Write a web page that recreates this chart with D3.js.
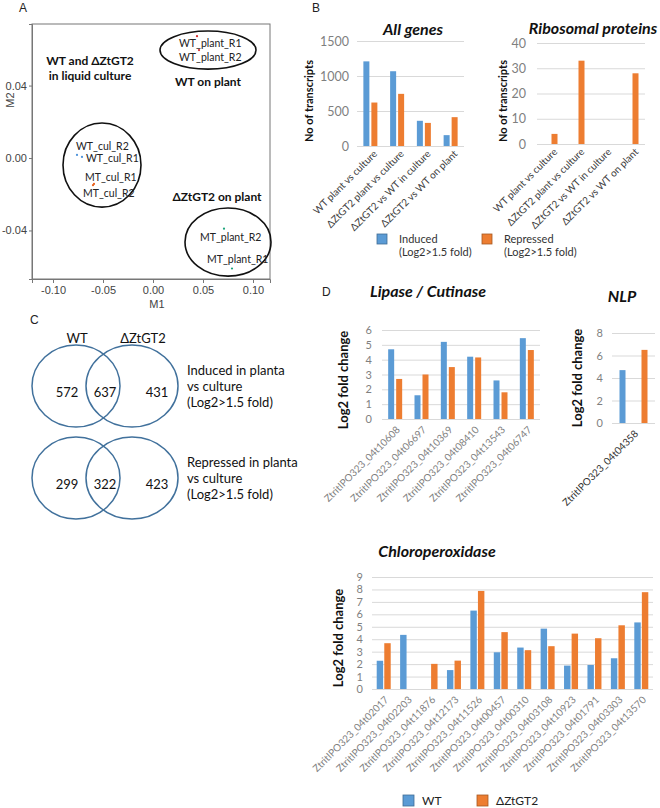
<!DOCTYPE html>
<html><head><meta charset="utf-8">
<script src="https://cdnjs.cloudflare.com/ajax/libs/d3/7.8.5/d3.min.js"></script>
<style>
body{margin:0;background:#fff;}
svg{display:block;font-family:Lato,"Open Sans",sans-serif;}
</style></head>
<body><svg id="c" width="660" height="808"></svg>
<script>
// ---------- DATA ----------
// Panel A: MDS plot
const pcaSamples = ["WT_plant_R1","WT_plant_R2","WT_cul_R2","WT_cul_R1","MT_cul_R1","MT_cul_R2","MT_plant_R2","MT_plant_R1"];
const pcaM1 = [0.044, 0.046, -0.076, -0.071, -0.059, -0.060, 0.071, 0.079];
const pcaM2 = [0.0673, 0.0596, 0.0017, 0.0006, -0.0143, -0.0150, -0.039, -0.061];
const pcaGroup = ["wtPlant","wtPlant","wtCul","wtCul","mtCul","mtCul","mtPlant","mtPlant"];
const pcaXTicks = [-0.10, -0.05, 0.00, 0.05, 0.10];
const pcaYTicks = [-0.04, 0.00, 0.04];
// label anchors (data coords)
const pcaLabelText = ["WT_plant_R1","WT_plant_R2","WT_cul_R2","WT_cul_R1","MT_cul_R1","MT_cul_R2","MT_plant_R2","MT_plant_R1"];
const pcaLabelM1 = [0.026, 0.026, -0.077, -0.067, -0.068, -0.070, 0.047, 0.054];
const pcaLabelM2 = [0.0635, 0.0557, 0.0062, 0.0000, -0.0105, -0.0193, -0.0436, -0.0557];
const groupTitles = [["WT on plant"],["WT and \u0394ZtGT2","in liquid culture"],["\u0394ZtGT2 on plant"]];
const groupTitleM1 = [0.055, -0.063, 0.064];
const groupTitleM2 = [0.042, 0.0535, -0.0215];
const ellipseCx = [0.055, -0.051, 0.075];
const ellipseCy = [0.0596, -0.0039, -0.0464];
const ellipseRx = [0.048, 0.039, 0.043];
const ellipseRy = [0.0105, 0.0232, 0.0188];

// Panel B
const bCategories = ["WT plant vs culture","\u0394ZtGT2 plant vs culture","\u0394ZtGT2 vs WT in culture","\u0394ZtGT2 vs WT on plant"];
const allInduced = [1209, 1068, 360, 155];
const allRepressed = [621, 745, 330, 412];
const allTicks = [0, 500, 1000, 1500];
const riboInduced = [0, 0, 0, 0];
const riboRepressed = [4, 33, 0, 28];
const riboTicks = [0, 10, 20, 30, 40];

// Panel C: Venn counts [WT only, shared, ΔZtGT2 only]
const vennInduced = [572, 637, 431];
const vennRepressed = [299, 322, 423];

// Panel D
const lipaseGenes = ["ZtritIPO323_04t10608","ZtritIPO323_04t06697","ZtritIPO323_04t10369","ZtritIPO323_04t08410","ZtritIPO323_04t13543","ZtritIPO323_04t06747"];
const lipaseWT = [4.7, 1.6, 5.2, 4.2, 2.6, 5.45];
const lipaseMT = [2.7, 3.0, 3.5, 4.15, 1.8, 4.65];
const lipaseTicks = [0,1,2,3,4,5,6];
const nlpGenes = ["ZtritIPO323_04t04358"];
const nlpWT = [4.7];
const nlpMT = [6.5];
const nlpTicks = [0,2,4,6,8];
const chloroGenes = ["ZtritIPO323_04t02017","ZtritIPO323_04t02203","ZtritIPO323_04t11876","ZtritIPO323_04t12173","ZtritIPO323_04t11526","ZtritIPO323_04t00457","ZtritIPO323_04t00310","ZtritIPO323_04t03108","ZtritIPO323_04t10923","ZtritIPO323_04t01791","ZtritIPO323_04t03303","ZtritIPO323_04t13570"];
const chloroWT = [2.27, 4.35, 0, 1.52, 6.3, 2.95, 3.33, 4.85, 1.88, 1.93, 2.47, 5.35];
const chloroMT = [3.68, 0, 2.02, 2.28, 7.88, 4.57, 3.12, 3.44, 4.45, 4.08, 5.12, 7.78];
const chloroTicks = [0,1,2,3,4,5,6,7,8,9];

// ---------- STYLE ----------
const BLUE = "#5B9BD5", ORANGE = "#ED7D31", GRID = "#d9d9d9", TICK = "#7f7f7f";
const svg = d3.select("#c");
svg.append("rect").attr("width",660).attr("height",808).attr("fill","#fff");
const ARIAL = "'Liberation Sans',Arial,sans-serif";

function panelLetter(t,x,y){
  svg.append("text").attr("x",x).attr("y",y).attr("font-family",ARIAL)
    .attr("font-size",12).attr("fill","#222").text(t);
}
function title(t,x,y,size){
  svg.append("text").attr("x",x).attr("y",y).attr("text-anchor","middle")
    .attr("font-weight","bold").attr("font-style","italic").attr("font-size",size||16).attr("fill","#111").text(t);
}
function yTitle(t,x,y,size){
  svg.append("text").attr("transform",`translate(${x},${y}) rotate(-90)`).attr("text-anchor","middle")
    .attr("dy","0.35em").attr("font-weight","bold").attr("font-size",size).attr("fill","#111").text(t);
}

// ---------- PANEL A ----------
panelLetter("A", 19, 12);
const ax = d3.scaleLinear().domain([-0.121, 0.117]).range([32, 270]);
const ay = d3.scaleLinear().domain([-0.0668, 0.074]).range([279, 24]);
const gA = svg.append("g");
gA.append("rect").attr("x",ax.range()[0]).attr("y",ay.range()[1])
  .attr("width",ax.range()[1]-ax.range()[0]).attr("height",ay.range()[0]-ay.range()[1])
  .attr("fill","none").attr("stroke","#777").attr("stroke-width",1);
const fmtA = v => d3.format(".2f")(v).replace("\u2212","-");
const axB = gA.append("g").attr("transform",`translate(0,${ay.range()[0]})`)
  .call(d3.axisBottom(ax).tickValues(pcaXTicks).tickFormat(fmtA).tickSize(4).tickPadding(3));
const axL = gA.append("g").attr("transform",`translate(${ax.range()[0]},0)`)
  .call(d3.axisLeft(ay).tickValues(pcaYTicks).tickFormat(fmtA).tickSize(3).tickPadding(2));
[axB, axL].forEach(g=>{
  g.select(".domain").attr("stroke","#777");
  g.selectAll(".tick line").attr("stroke","#777");
  g.selectAll("text").attr("font-family",ARIAL).attr("font-size",11).attr("fill","#444");
});
gA.append("text").attr("x",157).attr("y",308).attr("text-anchor","middle")
  .attr("font-family",ARIAL).attr("font-size",11).attr("fill","#444").text("M1");
gA.append("text").attr("transform","translate(14,100) rotate(-90)").attr("text-anchor","middle")
  .attr("font-family",ARIAL).attr("font-size",11).attr("fill","#444").text("M2");
// ellipses
ellipseCx.forEach((cx,i)=>{
  gA.append("ellipse").attr("cx",ax(cx)).attr("cy",ay(ellipseCy[i]))
    .attr("rx",ax(cx+ellipseRx[i])-ax(cx)).attr("ry",ay(0)-ay(ellipseRy[i]))
    .attr("fill","none").attr("stroke","#111").attr("stroke-width",1.6);
});
// points
const groupColor = {wtPlant:"#d62728", wtCul:"#4a90d9", mtCul:"#e8601c", mtPlant:"#1aa37a"};
pcaSamples.forEach((s,i)=>{
  gA.append("circle").attr("cx",ax(pcaM1[i])).attr("cy",ay(pcaM2[i])).attr("r",1.1)
    .attr("fill",groupColor[pcaGroup[i]]);
});
pcaLabelText.forEach((t,i)=>{
  gA.append("text").attr("x",ax(pcaLabelM1[i])).attr("y",ay(pcaLabelM2[i])).attr("dy","0.35em")
    .attr("font-size",10.5).attr("fill","#222").text(t);
});
groupTitles.forEach((lines,i)=>{
  lines.forEach((l,j)=>{
    gA.append("text").attr("x",ax(groupTitleM1[i])).attr("y",ay(groupTitleM2[i])+j*15).attr("dy","0.35em")
      .attr("text-anchor","middle").attr("font-weight","bold").attr("font-size",12).attr("fill","#111").text(l);
  });
});

// ---------- BAR CHART HELPER ----------
function barChart(o){
  const g = svg.append("g");
  const x = d3.scaleBand().domain(o.cats).range(o.xRange);
  const y = d3.scaleLinear().domain(o.yDomain).range(o.yRange);
  const sub = d3.scaleBand().domain(["a","b"]).range([-o.subHalf, o.subHalf]).paddingInner(o.subPad);
  const ga = g.append("g").attr("transform",`translate(${o.xRange[0]},0)`)
    .call(d3.axisLeft(y).tickValues(o.ticks).tickFormat(d3.format("d"))
      .tickSize(-(o.xRange[1]-o.xRange[0])).tickPadding(o.tickPad));
  ga.select(".domain").remove();
  ga.selectAll(".tick line").attr("stroke",GRID).attr("stroke-width",1);
  ga.selectAll("text").attr("font-family","Lato,'Open Sans',sans-serif").attr("font-size",o.tickSize).attr("fill",TICK);
  const rows = o.cats.map((c,i)=>({c, a:o.a[i], b:o.b[i]}));
  [["a",BLUE],["b",ORANGE]].forEach(([k,col])=>{
    g.selectAll(null).data(rows).enter().append("rect")
      .attr("x",d=>x(d.c)+x.bandwidth()/2+sub(k))
      .attr("width",sub.bandwidth())
      .attr("y",d=>y(d[k])).attr("height",d=>y(0)-y(d[k]))
      .attr("fill",col);
  });
  g.selectAll(null).data(o.cats).enter().append("text")
    .attr("transform",d=>`translate(${x(d)+x.bandwidth()/2+o.lab[0]},${y(0)+o.lab[1]}) rotate(-45)`)
    .attr("text-anchor","end").attr("dy","0.35em")
    .attr("font-size",o.labSize).attr("fill",o.labColor).text(d=>d);
  return g;
}

// ---------- PANEL B ----------
panelLetter("B", 312, 12);
title("All genes", 413, 35);
title("Ribosomal proteins", 593, 34);
barChart({cats:bCategories, a:allInduced, b:allRepressed, xRange:[357,464], yDomain:[0,1500], yRange:[146,41],
  ticks:allTicks, tickPad:8, tickSize:12.5, subHalf:7, subPad:0.25, lab:[5,6], labSize:10, labColor:"#404040"});
barChart({cats:bCategories, a:riboInduced, b:riboRepressed, xRange:[537,645], yDomain:[0,40], yRange:[144,43],
  ticks:riboTicks, tickPad:11, tickSize:12.5, subHalf:7, subPad:0.25, lab:[5,6], labSize:10, labColor:"#404040"});
yTitle("No of transcripts", 309, 101, 11);
yTitle("No of transcripts", 503, 101, 11);
// legend B
[[377,"Induced",BLUE],[482,"Repressed",ORANGE]].forEach(([lx,t,col])=>{
  svg.append("rect").attr("x",lx).attr("y",234).attr("width",10).attr("height",10)
    .attr("fill",col).attr("stroke",d3.color(col).darker(1)).attr("stroke-width",0.8);
  svg.append("text").attr("x",lx+22).attr("y",243).attr("font-size",11).attr("fill","#333").text(t);
  svg.append("text").attr("x",lx+22).attr("y",256).attr("font-size",11).attr("fill","#333").text("(Log2>1.5 fold)");
});

// ---------- PANEL C ----------
panelLetter("C", 30, 324);
function venn(cy, counts, lines){
  const g = svg.append("g");
  g.append("ellipse").attr("cx",76).attr("cy",cy).attr("rx",44).attr("ry",41)
    .attr("fill","none").attr("stroke","#41719C").attr("stroke-width",1.5);
  g.append("ellipse").attr("cx",132).attr("cy",cy).attr("rx",46).attr("ry",41)
    .attr("fill","none").attr("stroke","#41719C").attr("stroke-width",1.5);
  [67,105,157].forEach((x,i)=>{
    g.append("text").attr("x",x).attr("y",cy+6).attr("dy","0.35em").attr("text-anchor","middle")
      .attr("font-size",13).attr("fill","#111").text(counts[i]);
  });
  lines.forEach((l,j)=>{
    g.append("text").attr("x",187).attr("y",cy-16+j*16).attr("dy","0.35em")
      .attr("font-size",13).attr("fill","#111").text(l);
  });
}
svg.append("text").attr("x",77).attr("y",338).attr("dy","0.35em").attr("text-anchor","middle").attr("font-size",13).attr("fill","#111").text("WT");
svg.append("text").attr("x",143).attr("y",338).attr("dy","0.35em").attr("text-anchor","middle").attr("font-size",13).attr("fill","#111").text("\u0394ZtGT2");
venn(386, vennInduced, ["Induced in planta","vs culture","(Log2>1.5 fold)"]);
venn(478, vennRepressed, ["Repressed in planta","vs culture","(Log2>1.5 fold)"]);

// ---------- PANEL D ----------
panelLetter("D", 322, 296);
title("Lipase / Cutinase", 428, 297);
title("NLP", 622, 302);
title("Chloroperoxidase", 437, 557);
barChart({cats:lipaseGenes, a:lipaseWT, b:lipaseMT, xRange:[382,540], yDomain:[0,6], yRange:[419,330],
  ticks:lipaseTicks, tickPad:10, tickSize:11, subHalf:7, subPad:0.25, lab:[3,9], labSize:10, labColor:"#7f7f7f"});
barChart({cats:nlpGenes, a:nlpWT, b:nlpMT, xRange:[612,655], yDomain:[0,8], yRange:[423,333],
  ticks:nlpTicks, tickPad:9, tickSize:11, subHalf:14, subPad:0.727, lab:[3,9], labSize:10, labColor:"#333"});
barChart({cats:chloroGenes, a:chloroWT, b:chloroMT, xRange:[372,653], yDomain:[0,9], yRange:[689,577],
  ticks:chloroTicks, tickPad:9, tickSize:11, subHalf:7, subPad:0.15, lab:[3,9], labSize:10, labColor:"#7f7f7f"});
yTitle("Log2 fold change", 343, 380, 13);
yTitle("Log2 fold change", 577, 378, 13);
yTitle("Log2 fold change", 338, 638, 13);
// legend D
[[403,"WT",BLUE],[477,"\u0394ZtGT2",ORANGE]].forEach(([lx,t,col])=>{
  svg.append("rect").attr("x",lx).attr("y",795).attr("width",11).attr("height",11)
    .attr("fill",col).attr("stroke",d3.color(col).darker(1)).attr("stroke-width",0.8);
  svg.append("text").attr("x",lx+19).attr("y",801).attr("dy","0.35em").attr("font-size",12).attr("fill","#222").text(t);
});
</script></body></html>
